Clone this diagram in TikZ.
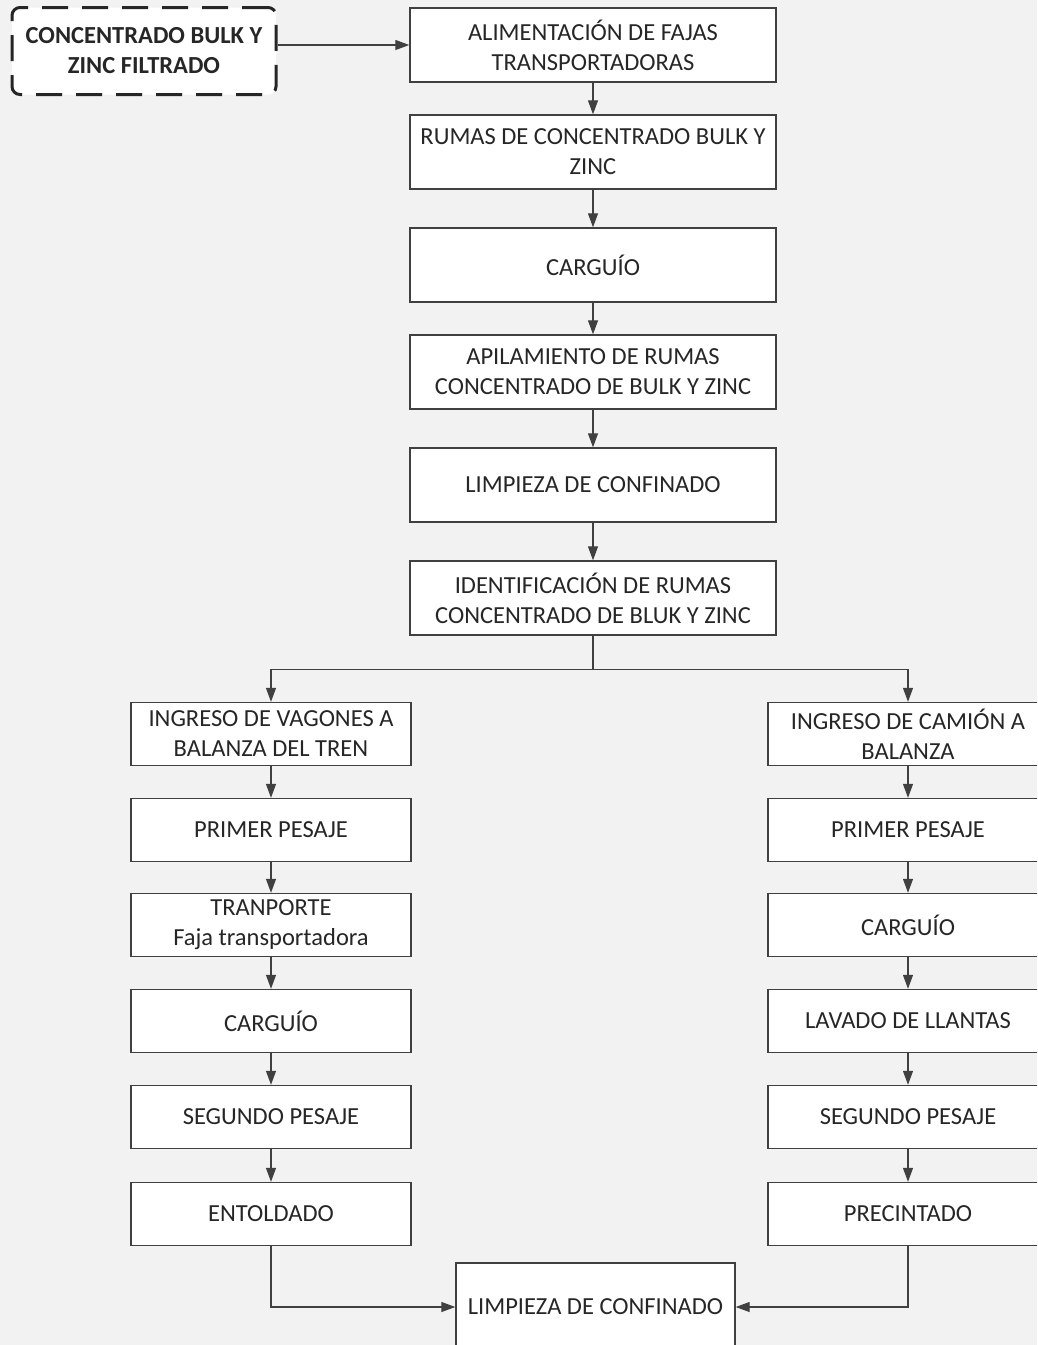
\documentclass[tikz,border=0pt]{standalone}
\usepackage{fontspec}
\setmainfont{Carlito}
\usetikzlibrary{arrows.meta}
\definecolor{bgcol}{HTML}{F2F2F2}
\definecolor{edgecol}{HTML}{404040}
\definecolor{txtcol}{HTML}{262626}
\begin{document}
\begin{tikzpicture}[x=1pt,y=-1pt,
  stepbox/.style={draw=edgecol,line width=1.4pt,fill=white,rectangle,
    align=center,text=txtcol,inner sep=1pt,
    font=\fontsize{24.5}{30}\selectfont},
  colbox/.style={stepbox,minimum width=366pt,minimum height=74pt},
  sidebox/.style={stepbox,minimum width=280pt,minimum height=63pt},
  inbox/.style={draw=txtcol,line width=3pt,dash pattern=on 26pt off 14pt,
    rounded corners=8pt,fill=white,align=center,text=txtcol,inner sep=1pt,
    minimum width=264pt,minimum height=87pt,
    font=\fontsize{24.5}{30}\selectfont\bfseries},
  arr/.style={draw=edgecol,line width=1.2pt,-{Triangle[length=14pt,width=10pt]}},
  ln/.style={draw=edgecol,line width=1.2pt}]
\useasboundingbox (0,0) rectangle (1037,1345);
\fill[bgcol] (0,0) rectangle (1037,1345);
\begin{scope}
\clip (0,0) rectangle (1037,1345);
% input material
\node[inbox] (src) at (144,51) {CONCENTRADO BULK Y\\ZINC FILTRADO};
% main column
\node[colbox] (c1) at (593,45)  {ALIMENTACIÓN DE FAJAS\\TRANSPORTADORAS};
\node[colbox] (c2) at (593,152) {RUMAS DE CONCENTRADO BULK Y\\ZINC};
\node[colbox] (c3) at (593,265) {CARGUÍO};
\node[colbox] (c4) at (593,372) {APILAMIENTO DE RUMAS\\CONCENTRADO DE BULK Y ZINC};
\node[colbox] (c5) at (593,485) {LIMPIEZA DE CONFINADO};
\node[colbox] (c6) at (593,598) {IDENTIFICACIÓN DE RUMAS\\CONCENTRADO DE BLUK Y ZINC};
% rail branch
\node[sidebox] (l1) at (271,734)  {INGRESO DE VAGONES A\\BALANZA DEL TREN};
\node[sidebox] (l2) at (271,830)  {PRIMER PESAJE};
\node[sidebox] (l3) at (271,925)  {TRANPORTE\\Faja transportadora};
\node[sidebox] (l4) at (271,1021) {CARGUÍO};
\node[sidebox] (l5) at (271,1117) {SEGUNDO PESAJE};
\node[sidebox] (l6) at (271,1214) {ENTOLDADO};
% truck branch
\node[sidebox] (r1) at (908,734)  {INGRESO DE CAMIÓN A\\BALANZA};
\node[sidebox] (r2) at (908,830)  {PRIMER PESAJE};
\node[sidebox] (r3) at (908,925)  {CARGUÍO};
\node[sidebox] (r4) at (908,1021) {LAVADO DE LLANTAS};
\node[sidebox] (r5) at (908,1117) {SEGUNDO PESAJE};
\node[sidebox] (r6) at (908,1214) {PRECINTADO};
% final step
\node[stepbox,minimum width=279pt,minimum height=88pt] (fin) at (595.5,1307) {LIMPIEZA DE CONFINADO};
\end{scope}
% connectors
\draw[arr] (src.east |- c1.west) -- (c1.west);
\foreach \a/\b in {c1/c2,c2/c3,c3/c4,c4/c5,c5/c6,
                   l1/l2,l2/l3,l3/l4,l4/l5,l5/l6,
                   r1/r2,r2/r3,r3/r4,r4/r5,r5/r6}
  \draw[arr] (\a.south) -- (\b.north);
\draw[ln] (c6.south) -- ++(0,34) coordinate (split);
\draw[arr] (split) -| (l1.north);
\draw[arr] (split) -| (r1.north);
\draw[arr] (l6.south) |- (fin.west);
\draw[arr] (r6.south) |- (fin.east);
\end{tikzpicture}
\end{document}
